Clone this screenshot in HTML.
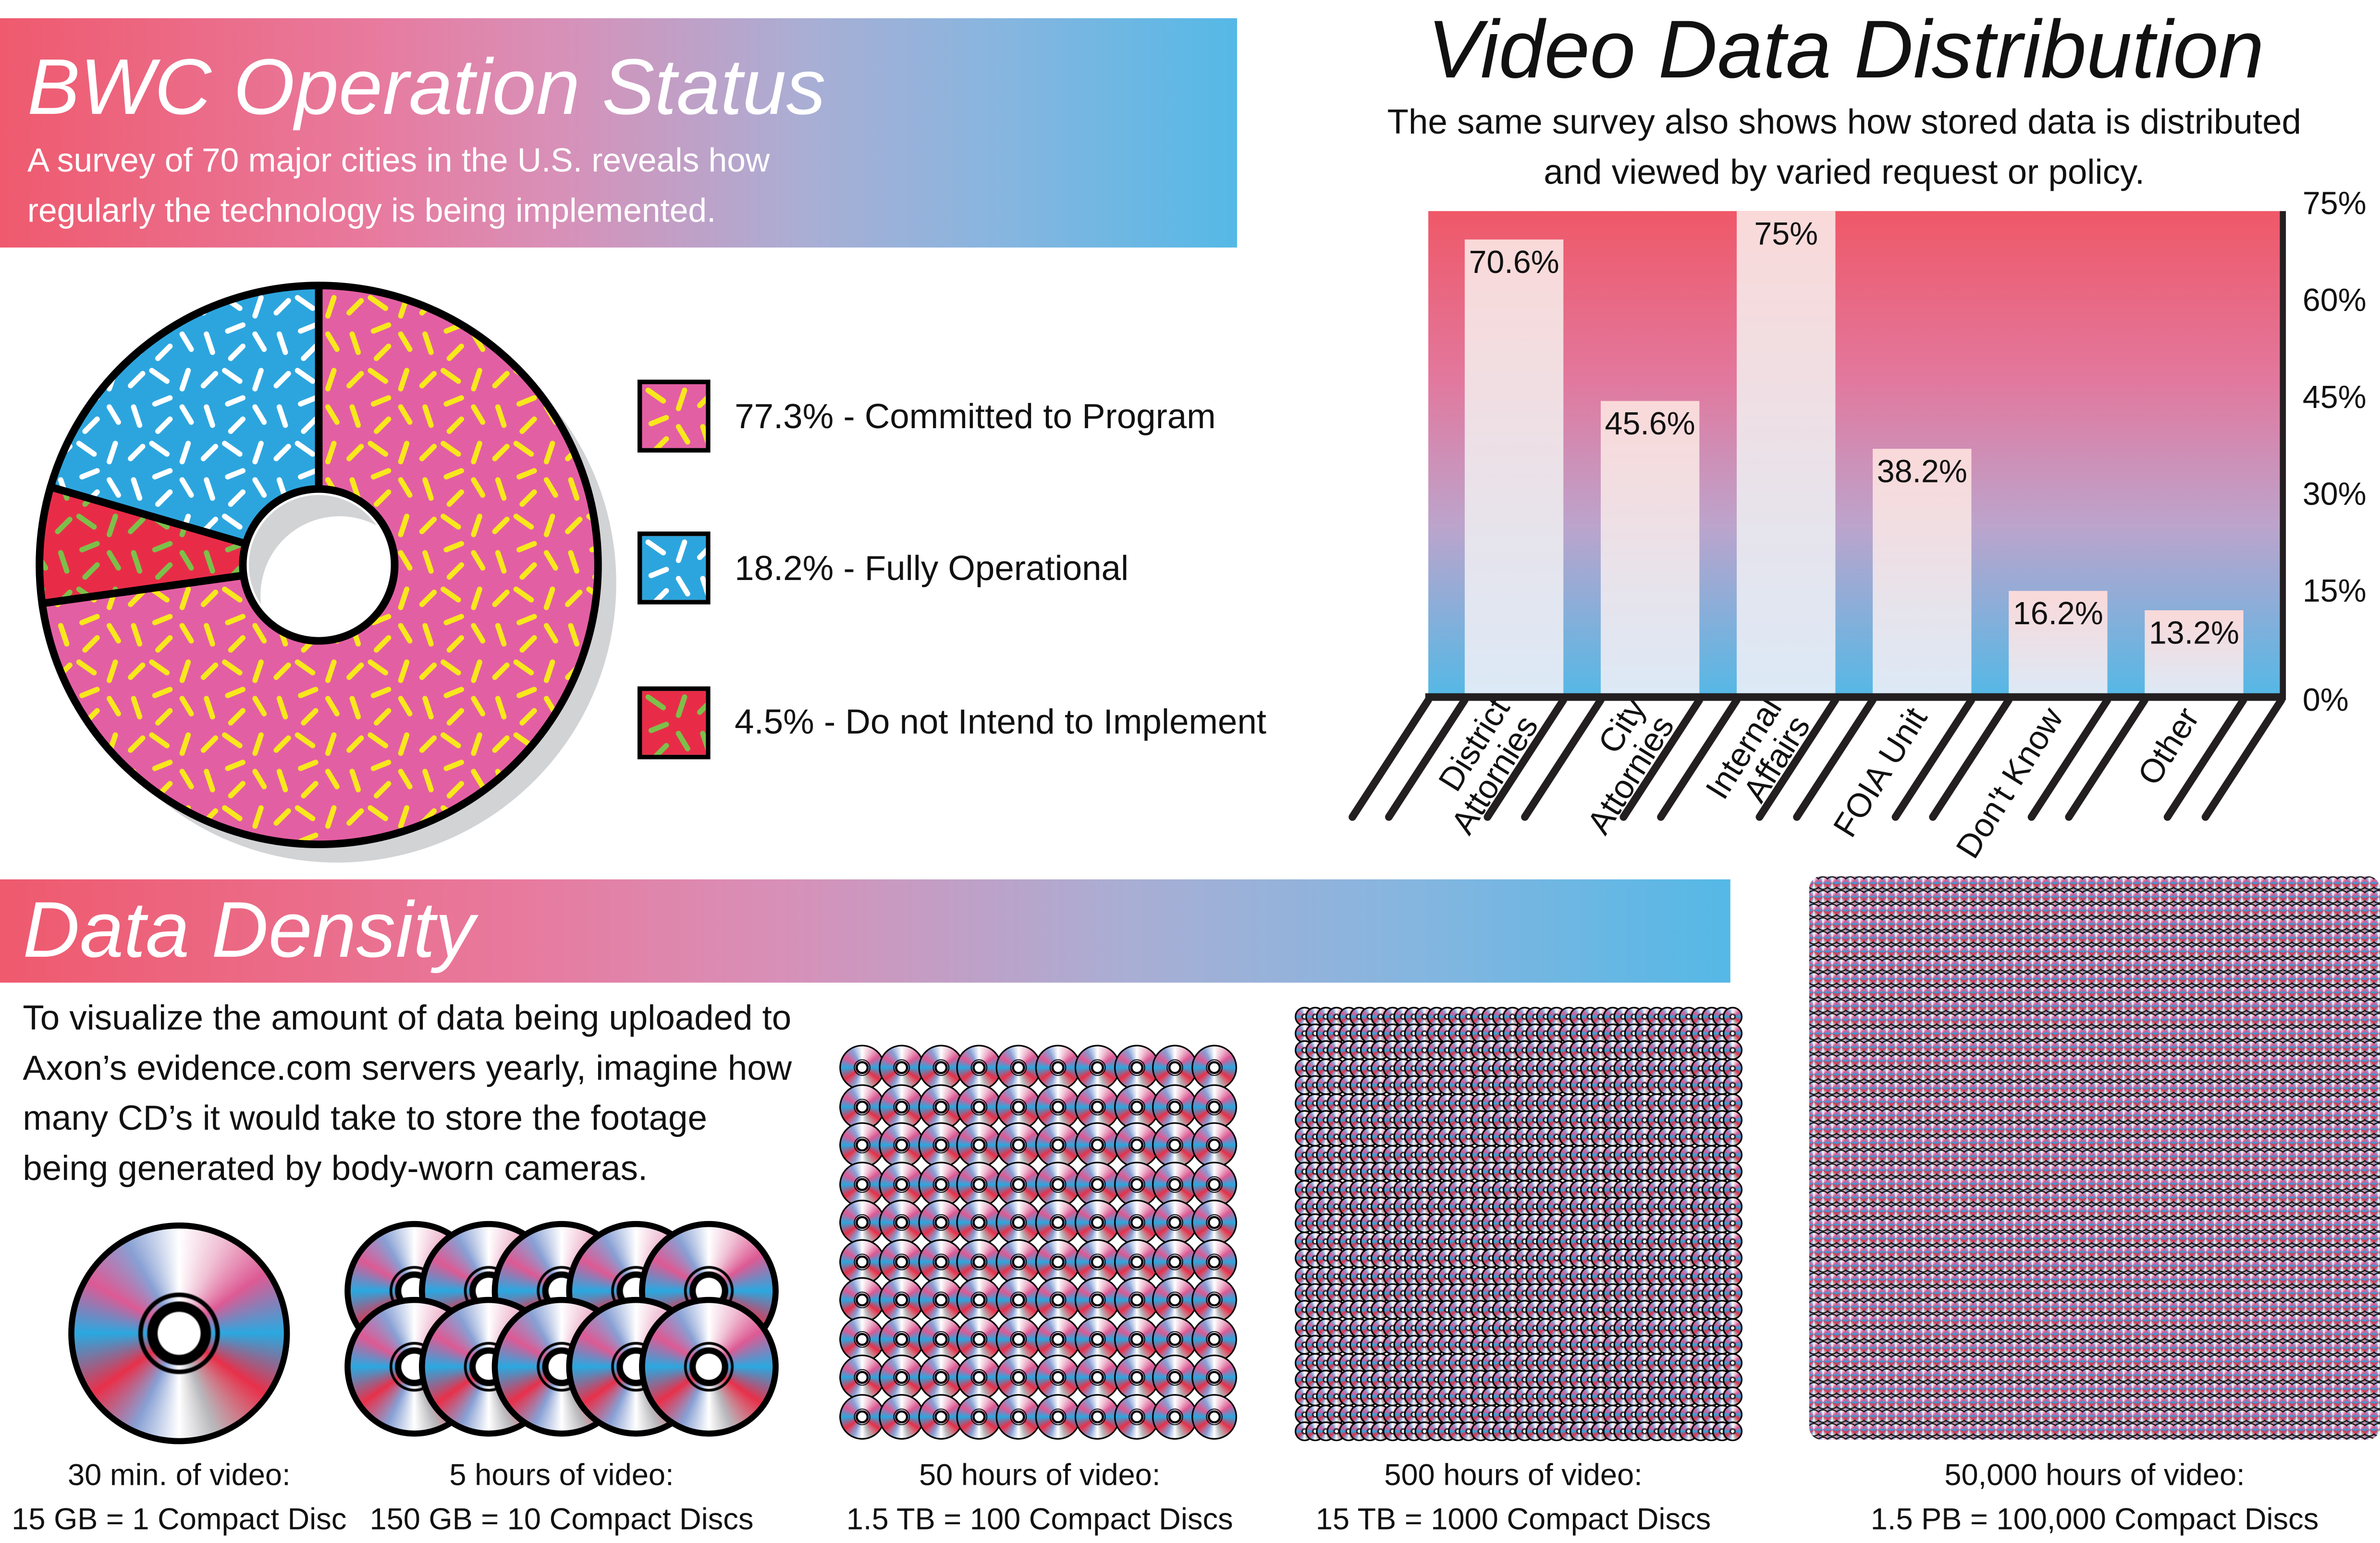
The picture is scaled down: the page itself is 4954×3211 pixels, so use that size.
<!DOCTYPE html>
<html><head><meta charset="utf-8">
<style>
html,body{margin:0;padding:0;background:#fff;width:4954px;height:3195px;overflow:hidden}
#root{position:absolute;left:0;top:0;width:1568px;height:1011px;transform:scale(3.15944,3.16024);transform-origin:0 0;font-family:"Liberation Sans",sans-serif;color:#111}
.t{position:absolute;white-space:nowrap;font-weight:300}
.cd{position:absolute;border-radius:50%;box-sizing:border-box;border:solid #000;
background:radial-gradient(circle,#fff 0 14%,#000 15% 21%,transparent 22% 24%,#000 25% 27%,transparent 28%),
conic-gradient(#fff 0deg,#f0c0d4 25deg,#dd5a94 55deg,#2aa8e0 90deg,#e8304a 125deg,#b8b8bc 160deg,#fff 180deg,#88a0d4 205deg,#e8304a 235deg,#2aa8e0 270deg,#dd5a94 300deg,#88a0d4 330deg,#fff 360deg)}
.grad{background:linear-gradient(90deg,#ef5a6e 0%,#e87a9e 30%,#d890b8 45%,#aaaed4 65%,#84b6e0 82%,#55b8e6 100%)}
</style></head><body>
<div id="root">

<div class="grad" style="position:absolute;left:0;top:12px;width:815px;height:151px"></div>
<div class="t" style="left:18px;top:28px;font-size:52px;color:#fff;font-style:italic">BWC Operation Status</div>
<div class="t" style="left:18px;top:89px;font-size:22px;color:#fff;line-height:33px">A survey of 70 major cities in the U.S. reveals how<br>regularly the technology is being implemented.</div>

<svg id="donut" style="position:absolute;left:0;top:170px" width="420" height="410" viewBox="0 170 420 410">
<defs>
<pattern id="pPink" width="48" height="48" patternUnits="userSpaceOnUse"><rect width="48" height="48" fill="#e35fa3"/><g stroke="#f8e81c" stroke-width="3.5" stroke-linecap="round"><line x1="4" y1="4" x2="14" y2="11"/><line x1="28" y1="4" x2="24" y2="16"/><line x1="38" y1="14" x2="46" y2="6"/><line x1="6" y1="26" x2="16" y2="22"/><line x1="24" y1="28" x2="30" y2="38"/><line x1="40" y1="28" x2="44" y2="40"/><line x1="8" y1="44" x2="16" y2="36"/></g></pattern>
<pattern id="pBlue" width="48" height="48" patternUnits="userSpaceOnUse"><rect width="48" height="48" fill="#2ca5de"/><g stroke="#fff" stroke-width="3.5" stroke-linecap="round"><line x1="4" y1="4" x2="14" y2="11"/><line x1="28" y1="4" x2="24" y2="16"/><line x1="38" y1="14" x2="46" y2="6"/><line x1="6" y1="26" x2="16" y2="22"/><line x1="24" y1="28" x2="30" y2="38"/><line x1="40" y1="28" x2="44" y2="40"/><line x1="8" y1="44" x2="16" y2="36"/></g></pattern>
<pattern id="pRed" width="48" height="48" patternUnits="userSpaceOnUse"><rect width="48" height="48" fill="#e82c48"/><g stroke="#7cc04a" stroke-width="3.5" stroke-linecap="round"><line x1="4" y1="4" x2="14" y2="11"/><line x1="28" y1="4" x2="24" y2="16"/><line x1="38" y1="14" x2="46" y2="6"/><line x1="6" y1="26" x2="16" y2="22"/><line x1="24" y1="28" x2="30" y2="38"/><line x1="40" y1="28" x2="44" y2="40"/><line x1="8" y1="44" x2="16" y2="36"/></g></pattern>
</defs>
<circle cx="222" cy="384" r="184" fill="#d2d3d5"/>
<g id="slices"></g>
<circle cx="210" cy="372" r="50" fill="#fff" stroke="#000" stroke-width="5"/>
<path d="M172,398 A45,45 0 0 1 248,346 A52,52 0 0 0 172,398Z" fill="#d2d3d5"/>
</svg>

<div style="position:absolute;left:420px;top:250px;width:48px;height:48px;box-sizing:border-box;border:3px solid #000;overflow:hidden"><svg width="48" height="48"><rect width="48" height="48" fill="url(#pPink)"/></svg></div>
<div class="t" style="left:484px;top:261px;font-size:23px">77.3% - Committed to Program</div>
<div style="position:absolute;left:420px;top:350px;width:48px;height:48px;box-sizing:border-box;border:3px solid #000;overflow:hidden"><svg width="48" height="48"><rect width="48" height="48" fill="url(#pBlue)"/></svg></div>
<div class="t" style="left:484px;top:361px;font-size:23px">18.2% - Fully Operational</div>
<div style="position:absolute;left:420px;top:452px;width:48px;height:48px;box-sizing:border-box;border:3px solid #000;overflow:hidden"><svg width="48" height="48"><rect width="48" height="48" fill="url(#pRed)"/></svg></div>
<div class="t" style="left:484px;top:462px;font-size:23px">4.5% - Do not Intend to Implement</div>

<div class="t" style="left:0;width:2432px;text-align:center;top:2px;font-size:54px;font-style:italic">Video Data Distribution</div>
<div class="t" style="left:0;width:2430px;text-align:center;top:64px;font-size:23px;line-height:33px">The same survey also shows how stored data is distributed<br>and viewed by varied request or policy.</div>

<svg id="bars" style="position:absolute;left:860px;top:120px" width="708" height="480" viewBox="860 120 708 480">
<defs>
<linearGradient id="bg" x1="0" y1="0" x2="0" y2="1"><stop offset="0" stop-color="#ef5868"/><stop offset="0.35" stop-color="#e2789e"/><stop offset="0.65" stop-color="#bca4cc"/><stop offset="1" stop-color="#55b8e6"/></linearGradient>
<linearGradient id="bf" x1="0" y1="0" x2="0" y2="1"><stop offset="0" stop-color="#fad9d9"/><stop offset="1" stop-color="#dce9f6"/></linearGradient>
</defs>
<g id="barg"></g>
</svg>

<div class="grad" style="position:absolute;left:0;top:579px;width:1140px;height:68px"></div>
<div class="t" style="left:15px;top:583px;font-size:52px;color:#fff;font-style:italic">Data Density</div>
<div class="t" style="left:15px;top:654px;font-size:23px;line-height:33px">To visualize the amount of data being uploaded to<br>Axon’s evidence.com servers yearly, imagine how<br>many CD’s it would take to store the footage<br>being generated by body-worn cameras.</div>

<div id="cds"></div>
<div style="position:absolute;left:1192px;top:577px;width:376px;height:371px;border-radius:8px;background:radial-gradient(circle at 50% 50%,transparent 0 3.6px,#111 3.8px 4.4px,transparent 4.6px) 0 0/6px 9px,conic-gradient(#fff 0deg,#dd5a94 55deg,#2aa8e0 90deg,#e8304a 125deg,#b8b8bc 160deg,#fff 180deg,#88a0d4 205deg,#e8304a 235deg,#2aa8e0 270deg,#dd5a94 300deg,#88a0d4 330deg,#fff 360deg) 0 0/6px 9px"></div>

<div class="t" style="left:0;width:236px;text-align:center;top:958px;font-size:20px;line-height:29px">30 min. of video:<br>15 GB = 1 Compact Disc</div>
<div class="t" style="left:220px;width:300px;text-align:center;top:958px;font-size:20px;line-height:29px">5 hours of video:<br>150 GB = 10 Compact Discs</div>
<div class="t" style="left:535px;width:300px;text-align:center;top:958px;font-size:20px;line-height:29px">50 hours of video:<br>1.5 TB = 100 Compact Discs</div>
<div class="t" style="left:847px;width:300px;text-align:center;top:958px;font-size:20px;line-height:29px">500 hours of video:<br>15 TB = 1000 Compact Discs</div>
<div class="t" style="left:1200px;width:360px;text-align:center;top:958px;font-size:20px;line-height:29px">50,000 hours of video:<br>1.5 PB = 100,000 Compact Discs</div>
</div>

<script>
// Donut data (visual shares as drawn), clockwise from top
const sliceLabels=['Committed to Program','Do not Intend to Implement','Fully Operational'];
const sliceShares=[0.728,0.067,0.205];
const sliceFills=['url(#pPink)','url(#pRed)','url(#pBlue)'];
(function(){
 const NS='http://www.w3.org/2000/svg',g=document.getElementById('slices');
 const cx=210,cy=372,R=184,r=50;
 let a=-90;
 sliceShares.forEach((s,i)=>{
  const a2=a+s*360, rad=d=>d*Math.PI/180;
  const large=(a2-a)>180?1:0;
  const p=`M${cx+r*Math.cos(rad(a))},${cy+r*Math.sin(rad(a))} L${cx+R*Math.cos(rad(a))},${cy+R*Math.sin(rad(a))} A${R},${R} 0 ${large} 1 ${cx+R*Math.cos(rad(a2))},${cy+R*Math.sin(rad(a2))} L${cx+r*Math.cos(rad(a2))},${cy+r*Math.sin(rad(a2))} A${r},${r} 0 ${large} 0 ${cx+r*Math.cos(rad(a))},${cy+r*Math.sin(rad(a))}Z`;
  const el=document.createElementNS(NS,'path');
  el.setAttribute('d',p);el.setAttribute('fill',sliceFills[i]);el.setAttribute('stroke','#000');el.setAttribute('stroke-width','5');el.setAttribute('stroke-linejoin','round');
  
  
  g.appendChild(el);a=a2;
 });
})();

// Bar chart data
const categories=[['District','Attornies'],['City','Attornies'],['Internal','Affairs'],['FOIA Unit'],["Don't Know"],['Other']];
const values=[70.6,45.6,75,38.2,16.2,13.2];
const valueLabels=['70.6%','45.6%','75%','38.2%','16.2%','13.2%'];
const yTicks=[0,15,30,45,60,75];
(function(){
 const NS='http://www.w3.org/2000/svg',g=document.getElementById('barg');
 const L=941,Rr=1503,T=139,B=458,max=75;
 const y=v=>B-(v/max)*(B-T);
 const step=89.6, bw=65;
 const mk=(tag,attrs,name)=>{const e=document.createElementNS(NS,tag);for(const k in attrs)e.setAttribute(k,attrs[k]);
  
  
  g.appendChild(e);return e;};
 mk('rect',{x:L,y:T,width:Rr-L,height:B-T,fill:'url(#bg)'},'plot-background');
 const edges=[L];
 values.forEach((v,i)=>{
  const x=L+24+i*step;
  mk('rect',{x:x,y:y(v),width:bw,height:B-y(v),fill:'url(#bf)'},'bar-'+i);
  const t=mk('text',{x:x+bw/2,y:y(v)+22,'text-anchor':'middle','font-size':21,fill:'#111','font-family':'Liberation Sans'},'bar-value-'+i);t.textContent=valueLabels[i];
  edges.push(x,x+bw);
 });
 edges.push(Rr);
 edges.forEach((ex,i)=>{mk('line',{x1:ex,y1:B+3,x2:ex-50,y2:B+80,stroke:'#231f20','stroke-width':5,'stroke-linecap':'round'},'axis-hatch-'+i);});
 values.forEach((v,i)=>{
  const x=L+24+i*step;
  const n=categories[i].length;
  const lab=mk('text',{transform:`translate(${x+bw/2+(n>1?8:4)},${B+14}) rotate(-58)`,'text-anchor':'end','font-size':22,fill:'#111','font-family':'Liberation Sans'},'x-label-'+i);
  categories[i].forEach((w,j)=>{const ts=document.createElementNS(NS,'tspan');ts.setAttribute('x',0);ts.setAttribute('y',(j-(n-1))*22+(n>1?10:0));ts.textContent=w;lab.appendChild(ts);});
 });
 mk('line',{x1:L-2,y1:B+1,x2:Rr+2,y2:B+1,stroke:'#231f20','stroke-width':5},'x-axis');
 mk('line',{x1:Rr+1,y1:T,x2:Rr+1,y2:B+3,stroke:'#231f20','stroke-width':4},'y-axis');
 yTicks.forEach((v,i)=>{const t=mk('text',{x:Rr+14,y:y(v)+(v==0?10:2),'font-size':21,fill:'#111','font-family':'Liberation Sans'},'y-tick-'+i);t.textContent=v+'%';});
})();

// CD groups
(function(){
 const host=document.getElementById('cds');
 function cd(cx,cy,r,bw,name){const d=document.createElement('div');d.className='cd';
  d.style.left=(cx-r)+'px';d.style.top=(cy-r)+'px';d.style.width=d.style.height=(2*r)+'px';d.style.borderWidth=bw+'px';
  
  
  host.appendChild(d);}
 cd(118,878,73,4.5,'cd-single');
 for(let row=0;row<2;row++)for(let c=0;c<5;c++)cd(273+c*48.5,850+row*50,46,4,'cd-10');
 for(let row=0;row<10;row++)for(let c=0;c<10;c++)cd(568+c*25.8,703+row*25.5,15,1.6,'cd-100');
 for(let row=0;row<25;row++)for(let c=0;c<40;c++)cd(859+c*7.25,669+row*11.4,6.5,0.8,'cd-1000');
})();
</script>
</body></html>
